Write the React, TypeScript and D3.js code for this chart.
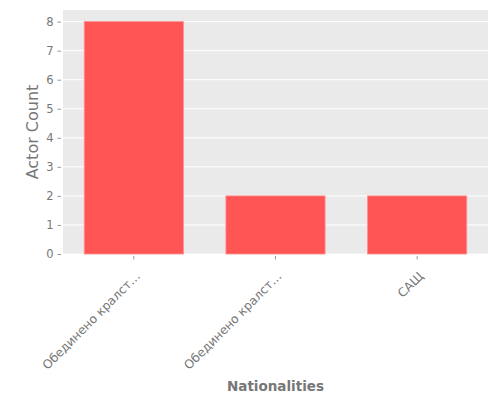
import { useEffect, useRef } from 'react';
import * as d3 from 'd3';

const width = 500;
const height = 400;
const [mt, mr, mb, ml] = [10, 12, 146, 63];

const nationalities = ['Обединено кралст…', 'Обединено кралст…', 'САЩ'];
const actorCounts = [8, 2, 2];
const yTicks = [0, 1, 2, 3, 4, 5, 6, 7, 8];

const font = '"DejaVu Sans", sans-serif';

export default function App() {
    const ref = useRef<SVGSVGElement>(null);

    useEffect(() => {
        const svg = d3.select(ref.current);
        svg.selectAll('*').remove();

        const x = d3
            .scaleBand<number>()
            .domain(nationalities.map((_, i) => i))
            .range([ml, width - mr])
            .paddingInner(0.3)
            .paddingOuter(0.15);

        const y = d3
            .scaleLinear()
            .domain([0, 8.4])
            .range([height - mb, mt]);

        // background
        svg.append('rect')
            .attr('x', ml)
            .attr('y', mt)
            .attr('width', width - ml - mr)
            .attr('height', height - mt - mb)
            .attr('fill', '#EAEAEA');

        // grid
        svg.append('g')
            .selectAll('line')
            .data(yTicks)
            .join('line')
            .attr('x1', ml)
            .attr('x2', width - mr)
            .attr('y1', (d) => y(d))
            .attr('y2', (d) => y(d))
            .attr('stroke', '#ffffff')
            .attr('stroke-width', 1);

        // bars
        svg.append('g')
            .selectAll('rect')
            .data(actorCounts)
            .join('rect')
            .attr('x', (_, i) => x(i)!)
            .attr('y', (d) => y(d))
            .attr('width', x.bandwidth())
            .attr('height', (d) => y(0) - y(d))
            .attr('fill', '#FF5555')
            .attr('stroke', '#FF9090')
            .attr('stroke-width', 0.8);

        // y axis
        const yAxis = svg
            .append('g')
            .attr('transform', `translate(${ml - 2},0)`)
            .call(d3.axisLeft(y).tickValues(yTicks).tickSize(3.5).tickPadding(4).tickFormat(d3.format('d')));
        yAxis.select('.domain').remove();
        yAxis.selectAll('line').attr('stroke', '#999');
        yAxis.selectAll('text').attr('fill', '#777').style('font-family', font).style('font-size', '11.5px');

        // x axis
        const xAxis = svg
            .append('g')
            .attr('transform', `translate(0,${height - mb + 2})`)
            .call(
                d3
                    .axisBottom(x)
                    .tickSize(3.5)
                    .tickPadding(3.5)
                    .tickFormat((i) => nationalities[i as number])
            );
        xAxis.select('.domain').remove();
        xAxis.selectAll('line').attr('stroke', '#999');
        xAxis.selectAll('text')
            .attr('fill', '#777')
            .style('font-family', font)
            .style('font-size', '12.2px')
            .attr('text-anchor', 'end')
            .attr('dy', '0.35em')
            .attr('transform', 'translate(-1,13) rotate(-45)');

        // axis titles
        svg.append('text')
            .attr('transform', `translate(38,${(mt + height - mb) / 2}) rotate(-90)`)
            .attr('text-anchor', 'middle')
            .attr('fill', '#777')
            .style('font-family', font)
            .style('font-size', '16px')
            .text('Actor Count');

        svg.append('text')
            .attr('x', (ml + width - mr) / 2)
            .attr('y', 391)
            .attr('text-anchor', 'middle')
            .attr('fill', '#777')
            .style('font-family', font)
            .style('font-size', '13.5px')
            .style('font-weight', 'bold')
            .text('Nationalities');
    }, []);

    return (
        <div style={{ width, height, margin: -8 }}>
            <svg ref={ref} width={width} height={height} style={{ display: 'block' }} />
        </div>
    );
}
